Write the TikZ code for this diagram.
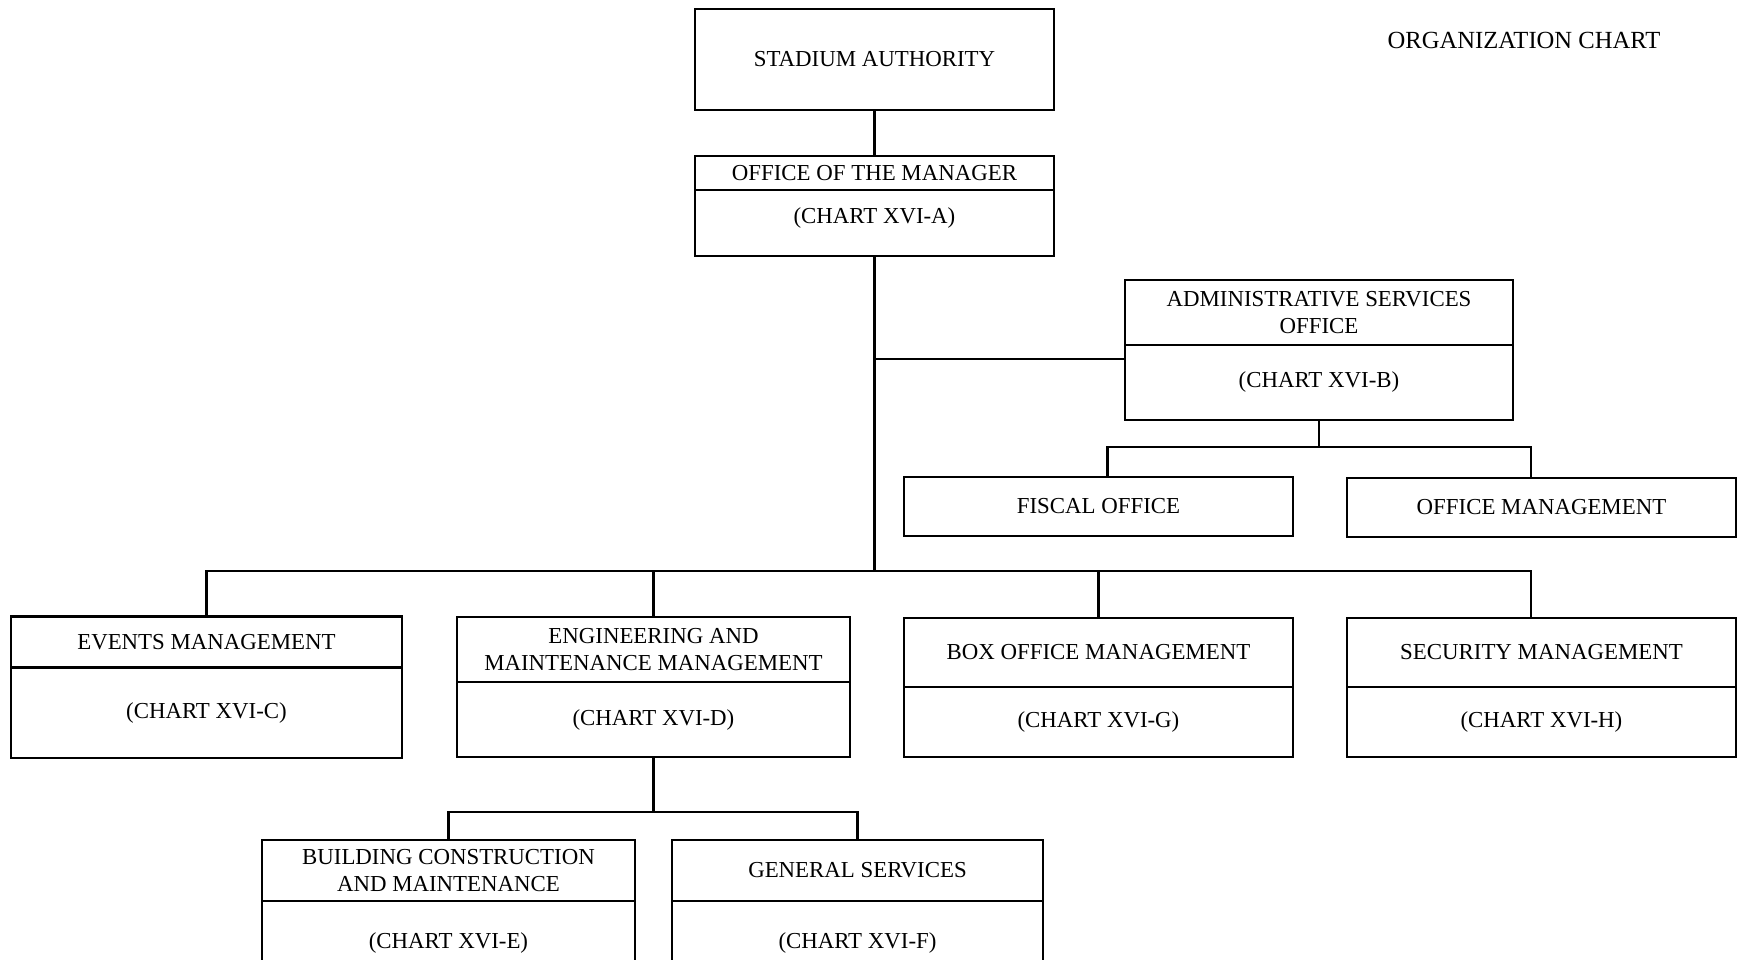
\documentclass[tikz,border=0pt]{standalone}
\usepackage{fontspec}
\setmainfont{Liberation Serif}
\usetikzlibrary{positioning,calc}

\begin{document}
\begin{tikzpicture}[
    x=0.01cm, y=-0.01cm,
    line width=0.6pt,
    node distance=0pt,
    unit/.style={
        rectangle,
        draw,
        minimum width=#1,
        inner sep=1pt,
        outer sep=0pt,
        font=\fontsize{6.5}{7.6}\selectfont,
        align=center
    },
    chart title/.style={
        font=\fontsize{7}{8}\selectfont
    }
]
\useasboundingbox (0,0) rectangle (1738,959);
\clip (0,0) rectangle (1738,959);

% Top of the chart
\node[unit=3.59cm, minimum height=1.01cm] (authority) at (874.5,59.5) {STADIUM AUTHORITY};
\node[unit=3.59cm, minimum height=0.34cm] (managerhead) at (874.5,173) {OFFICE OF THE MANAGER};
\node[unit=3.59cm, minimum height=0.66cm, text depth=0.14cm, below=of managerhead] (manager) {(CHART XVI-A)};

\node[chart title] (charttitle) at (1524,40) {ORGANIZATION CHART};

% Staff office on the right
\node[unit=3.88cm, minimum height=0.65cm] (adminhead) at (1319,312.5) {ADMINISTRATIVE SERVICES\\OFFICE};
\node[unit=3.88cm, minimum height=0.75cm, text depth=0.06cm, below=of adminhead] (admin) {(CHART XVI-B)};
\node[unit=3.89cm, minimum height=0.59cm] (fiscal) at (1098.5,506.5) {FISCAL OFFICE};
\node[unit=3.89cm, minimum height=0.59cm] (officemgmt) at (1541.5,507.5) {OFFICE MANAGEMENT};

% Line divisions
\node[unit=3.91cm, minimum height=0.51cm] (eventshead) at (206.5,642) {EVENTS MANAGEMENT};
\node[unit=3.91cm, minimum height=0.90cm, below=of eventshead] (events) {(CHART XVI-C)};
\node[unit=3.92cm, minimum height=0.65cm] (enghead) at (653.5,649.5) {ENGINEERING AND\\MAINTENANCE MANAGEMENT};
\node[unit=3.92cm, minimum height=0.75cm, below=of enghead] (engineering) {(CHART XVI-D)};
\node[unit=3.89cm, minimum height=0.69cm] (boxofficehead) at (1098.5,652.5) {BOX OFFICE MANAGEMENT};
\node[unit=3.89cm, minimum height=0.70cm, below=of boxofficehead] (boxoffice) {(CHART XVI-G)};
\node[unit=3.89cm, minimum height=0.69cm] (securityhead) at (1541.5,652.5) {SECURITY MANAGEMENT};
\node[unit=3.89cm, minimum height=0.70cm, below=of securityhead] (security) {(CHART XVI-H)};

% Under engineering
\node[unit=3.73cm, minimum height=0.61cm] (buildinghead) at (448.5,870.5) {BUILDING CONSTRUCTION\\AND MAINTENANCE};
\node[unit=3.73cm, minimum height=0.84cm, below=of buildinghead] (building) {(CHART XVI-E)};
\node[unit=3.71cm, minimum height=0.61cm] (generalhead) at (857.5,870.5) {GENERAL SERVICES};
\node[unit=3.71cm, minimum height=0.84cm, below=of generalhead] (general) {(CHART XVI-F)};

% Connectors
\coordinate (bus) at (874.5,571);
\coordinate (adminbus) at (1319,447);
\coordinate (engbus) at (653.5,812);

\draw (authority) -- (managerhead);
\draw (manager.south) -- (bus);
\draw (admin.173) -- (admin.173 -| manager.south);

\draw (admin.south) -- (adminbus);
\draw ($(fiscal.north)+(9,0)$) |- (adminbus) -| ($(officemgmt.north)+(-10.5,0)$);

\draw (eventshead.north) |- (bus) -| ($(securityhead.north)+(-10.5,0)$);
\draw (enghead.north) -- (enghead.north |- bus);
\draw (boxofficehead.north) -- (boxofficehead.north |- bus);

\draw (engineering.south) -- (engbus);
\draw (buildinghead.north) |- (engbus) -| (generalhead.north);

\end{tikzpicture}
\end{document}
